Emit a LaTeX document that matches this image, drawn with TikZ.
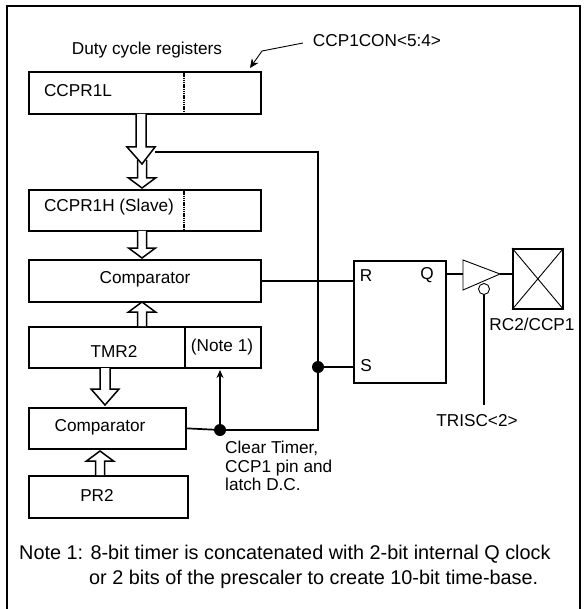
\documentclass[tikz,border=0pt]{standalone}
\usepackage{fontspec}
\setmainfont{Liberation Sans}
\usetikzlibrary{calc,arrows.meta}
\tikzset{
  every node/.style={font=\fontsize{17.2}{18.5}\selectfont, text=black, inner sep=0pt},
  lbl/.style={anchor=base},
  notefont/.style={font=\fontsize{19.85}{21}\selectfont, anchor=base west},
  regbox/.style={draw=black, line width=1.7pt, fill=white, anchor=north west},
  wire/.style={black, line width=1.7pt},
  thinwire/.style={black, line width=0.9pt},
  dot/.style={circle, fill=black, minimum size=12pt},
  bus/.style 2 args={draw=black, fill=white, line width=1.5pt, to path={
    let \p1=(\tikztostart), \p2=(\tikztotarget), \n1={\y2>\y1 ? 1 : -1} in
    (\x1-#1,\y1) -- (\x1-#1,\y2-\n1*#2) -- (\x1-#1-9pt,\y2-\n1*#2) -- (\x2,\y2)
    -- (\x1+#1+9pt,\y2-\n1*#2) -- (\x1+#1,\y2-\n1*#2) -- (\x1+#1,\y1)}}
}
\begin{document}
\begin{tikzpicture}[x=1pt,y=-1pt]
  \useasboundingbox (0,0) rectangle (584,609);
  \draw[black, line width=2pt] (7,609) -- (7,6) -- (580,6) -- (580,609);

  \node[regbox, minimum width=232pt, minimum height=42pt] (ccprl) at (28,71) {};
  \node[regbox, minimum width=232pt, minimum height=41pt] (ccprh) at (28,189) {};
  \node[regbox, minimum width=232pt, minimum height=42pt] (compa) at (28,259) {};
  \node[regbox, minimum width=232pt, minimum height=41pt] (tmr) at (28,326) {};
  \node[regbox, minimum width=157pt, minimum height=41pt] (compb) at (28,407) {};
  \node[regbox, minimum width=159pt, minimum height=42pt] (prtwo) at (28,475) {};
  \node[regbox, minimum width=92pt, minimum height=122pt] (latch) at (353,260) {};
  \node[regbox, minimum width=50pt, minimum height=60pt] (pin) at (512,248) {};

  \node[lbl] (ccprltext) at (78,97) {CCPR1L};
  \node[lbl] (ccprhtext) at (109,212) {CCPR1H (Slave)};
  \node[lbl] (compatext) at (145,283) {Comparator};
  \node[lbl] (tmrtext) at (114,357) {TMR2};
  \node[lbl] (notetext) at (222,351) {(Note 1)};
  \node[lbl] (compbtext) at (100,431) {Comparator};
  \node[lbl] (prtext) at (97,501) {PR2};
  \node[lbl] (dutytext) at (147,55) {Duty cycle registers};
  \node[lbl] (context) at (377,47) {CCP1CON<5:4>};
  \node[lbl] (rtext) at (366,281) {R};
  \node[lbl] (qtext) at (427,279) {Q};
  \node[lbl] (stext) at (366,371) {S};
  \node[lbl] (pintext) at (532,330) {RC2/CCP1};
  \node[lbl] (tristext) at (477,426) {TRISC<2>};
  \node[anchor=north west, align=left] (cleartext) at (225,441) {Clear Timer,\\CCP1 pin and\\latch D.C.};
  \node[notefont] (noteone) at (19,559) {Note 1: 8-bit timer is concatenated with 2-bit internal Q clock};
  \node[notefont] (notetwo) at (89,584) {or 2 bits of the prescaler to create 10-bit time-base.};

  % dotted and solid dividers
  \draw[line width=2.2pt, dash pattern=on 1.5pt off 0.7pt] (184,71) -- (184,113);
  \draw[line width=2.2pt, dash pattern=on 1.5pt off 0.7pt] (184,189) -- (184,230);
  \draw[wire] (tmr.north west) ++(157,0) -- ++(0,41);

  % bus arrows
  \coordinate (busa) at (141,114);
  \coordinate (busb) at (142,164);
  \coordinate (busc) at (142,160);
  \coordinate (busd) at (142,188);
  \coordinate (buse) at (142,231);
  \coordinate (busf) at (142,258);
  \coordinate (busg) at (142,326);
  \coordinate (bush) at (142,302);
  \coordinate (busi) at (105,368);
  \coordinate (busj) at (105,405);
  \coordinate (busk) at (100,475);
  \coordinate (busl) at (100,451);
  \draw[bus={4.5pt}{10pt}] (busc) to (busd);
  \draw[bus={5pt}{17pt}] (busa) to (busb);
  \draw[bus={4.5pt}{10pt}] (buse) to (busf);
  \draw[bus={4.5pt}{10pt}] (busg) to (bush);
  \draw[bus={5pt}{16pt}] (busi) to (busj);
  \draw[bus={4.5pt}{10pt}] (busk) to (busl);

  % wires
  \node[dot] (dota) at (318,367) {};
  \node[dot] (dotb) at (220,430) {};
  \coordinate (clra) at (155,152);
  \coordinate (clrb) at (318,152);
  \coordinate (clrc) at (318,430);
  \coordinate (notearrow) at (220,370);
  \draw[wire] (clra) -- (clrb) -- (clrc) -- (dotb) -- (compb.east);
  \draw[wire] (compa.east) -- (compa.east -| latch.west);
  \draw[wire] (dota) -- (dota -| latch.west);
  \draw[wire, -{Stealth[length=8pt,width=7pt]}] (dotb) -- (notearrow);

  % output stage
  \coordinate (triga) at (463,260);
  \coordinate (trigb) at (500,274);
  \coordinate (trigc) at (463,290);
  \draw[thinwire] (triga) -- (trigb) -- (trigc) -- cycle;
  \draw[wire] (latch.east |- trigb) -- (trigb -| triga);
  \draw[wire] (trigb) -- (trigb -| pin.west);
  \draw[thinwire] (pin.north west) -- (pin.south east);
  \draw[thinwire] (pin.north east) -- (pin.south west);
  \node[draw=black, line width=0.9pt, circle, minimum size=11pt, fill=white] (bubble) at (484,289) {};
  \coordinate (tris) at (484,405);
  \draw[wire] (bubble) -- (tris);

  % leader
  \coordinate (leada) at (303,43);
  \coordinate (leadb) at (262,51);
  \coordinate (leadc) at (250,68);
  \draw[thinwire, -{Stealth[length=9pt,width=8pt]}] (leada) -- (leadb) -- (leadc);
\end{tikzpicture}
\end{document}
